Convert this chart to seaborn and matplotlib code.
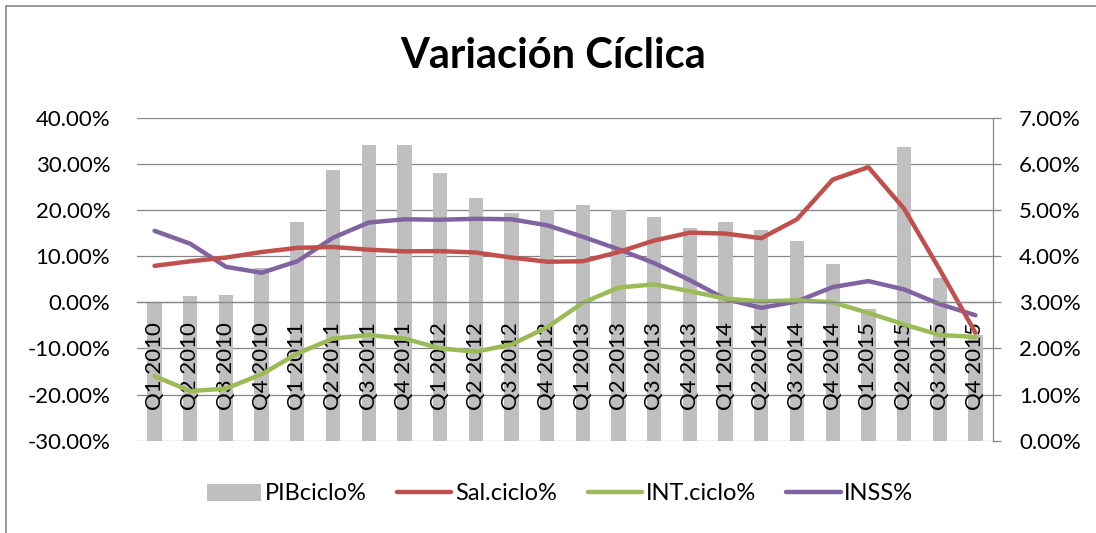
import matplotlib
matplotlib.use('Agg')
import matplotlib.pyplot as plt
from matplotlib.patches import Patch, Rectangle
from matplotlib.lines import Line2D
from matplotlib.ticker import FuncFormatter, MultipleLocator
import numpy as np
import pandas as pd
import seaborn as sns

# data (values in percent)
quarters = ['Q1 2010', 'Q2 2010', 'Q3 2010', 'Q4 2010',
            'Q1 2011', 'Q2 2011', 'Q3 2011', 'Q4 2011',
            'Q1 2012', 'Q2 2012', 'Q3 2012', 'Q4 2012',
            'Q1 2013', 'Q2 2013', 'Q3 2013', 'Q4 2013',
            'Q1 2014', 'Q2 2014', 'Q3 2014', 'Q4 2014',
            'Q1 2015', 'Q2 2015', 'Q3 2015', 'Q4 2015']
pib_ciclo = [3.00, 3.13, 3.15, 3.74, 4.75, 5.87, 6.42, 6.41, 5.81, 5.27, 4.93, 5.01,
             5.10, 5.01, 4.84, 4.61, 4.74, 4.56, 4.32, 3.84, 2.86, 6.36, 3.52, 2.30]
sal_ciclo = [7.9, 8.9, 9.7, 10.9, 11.8, 12.0, 11.4, 11.05, 11.1, 10.8, 9.7, 8.8,
             8.9, 10.9, 13.4, 15.1, 14.9, 13.9, 18.0, 26.6, 29.3, 20.3, 7.1, -6.6]
int_ciclo = [-16.0, -19.25, -18.7, -15.6, -11.1, -7.85, -7.1, -7.85, -10.0, -10.7, -9.15, -5.4,
             -0.1, 3.2, 3.9, 2.4, 0.8, 0.2, 0.45, 0.0, -2.3, -4.8, -7.1, -7.5]
inss = [4.55, 4.27, 3.77, 3.64, 3.89, 4.40, 4.73, 4.80, 4.79, 4.81, 4.80, 4.67,
        4.42, 4.15, 3.85, 3.48, 3.07, 2.88, 3.02, 3.33, 3.46, 3.28, 2.96, 2.72]

df = pd.DataFrame({'pos': np.arange(len(quarters)), 'quarter': quarters,
                   'pib': pib_ciclo, 'sal': sal_ciclo, 'int': int_ciclo, 'inss': inss})

sns.set_style('white')
plt.rcParams['font.family'] = ['Lato', 'DejaVu Sans']
plt.rcParams['text.color'] = 'black'
plt.rcParams['xtick.color'] = 'black'
plt.rcParams['ytick.color'] = 'black'

GRID = '#868686'
FS = 16
W, H = 1096, 533
fig = plt.figure(figsize=(W / 100, H / 100), dpi=100)
ax = fig.add_axes([136.7 / W, (H - 440.7) / H, 856.6 / W, 322.9 / H])

# right axis: bars + INSS
sns.barplot(data=df, x='pos', y='pib', native_scale=True, width=0.4, color='#BFBFBF',
            saturation=1, errorbar=None, linewidth=0, ax=ax)
sns.lineplot(data=df, x='pos', y='inss', color='#8064A2', lw=3.2, ax=ax,
             solid_capstyle='round', solid_joinstyle='round')
ax.set_ylim(0, 7)
ax.set_xlim(-0.5, len(quarters) - 0.5)
ax.yaxis.set_major_locator(MultipleLocator(1))
ax.yaxis.set_major_formatter(FuncFormatter(lambda v, p: f'{v:.2f}%'))
ax.grid(axis='y', color=GRID, lw=0.9)
ax.grid(axis='x', visible=False)
ax.set_axisbelow(True)

# left axis: Sal + INT
ax2 = ax.twinx()
sns.lineplot(data=df, x='pos', y='sal', color='#C0504D', lw=3.2, ax=ax2,
             solid_capstyle='round', solid_joinstyle='round')
sns.lineplot(data=df, x='pos', y='int', color='#9BBB59', lw=3.2, ax=ax2,
             solid_capstyle='round', solid_joinstyle='round')
ax2.set_ylim(-30, 40)
ax2.yaxis.set_major_locator(MultipleLocator(10))
ax2.yaxis.set_major_formatter(FuncFormatter(lambda v, p: f'{v:.2f}%'))
ax2.grid(False)

ax.yaxis.tick_right()
ax2.yaxis.tick_left()
for a in (ax, ax2):
    a.set_xlabel('')
    a.set_ylabel('')
    if a.get_legend():
        a.get_legend().remove()

# category labels hang below the 0% line of the left axis
ax2.xaxis.set_visible(True)
ax2.set_xticks(df['pos'])
ax2.set_xticklabels(quarters)
ax2.tick_params(axis='x', bottom=True, length=0, pad=14, labelsize=FS, labelrotation=90)
ax.tick_params(axis='x', bottom=False, labelbottom=False)
for lbl in ax2.get_xticklabels():
    lbl.set_rotation(90)
    lbl.set_verticalalignment('top')
    lbl.set_horizontalalignment('center')

for s in ['top', 'left', 'bottom']:
    ax.spines[s].set_visible(False)
ax.spines['right'].set_color(GRID)
ax.spines['right'].set_linewidth(0.9)
for s in ['top', 'left', 'right']:
    ax2.spines[s].set_visible(False)
ax2.spines['bottom'].set_position(('data', 0))
ax2.spines['bottom'].set_color(GRID)
ax2.spines['bottom'].set_linewidth(0.9)

ax.tick_params(axis='y', right=True, left=False, length=6, width=0.9, color=GRID,
               direction='out', pad=12.5, labelsize=FS, labelright=True, labelleft=False,
               labelcolor='black')
ax2.tick_params(axis='y', left=True, right=False, length=0, pad=19, labelsize=FS,
                labelleft=True, labelright=False, labelcolor='black')

fig.text(553 / W, (H - 56) / H, 'Variación Cíclica', ha='center', va='center',
         fontsize=30, fontweight='bold', color='black')

handles = [Patch(facecolor='#BFBFBF', edgecolor='none'),
           Line2D([], [], color='#C0504D', lw=3.2),
           Line2D([], [], color='#9BBB59', lw=3.2),
           Line2D([], [], color='#8064A2', lw=3.2)]
fig.legend(handles, ['PIBciclo%', 'Sal.ciclo%', 'INT.ciclo%', 'INSS%'],
           loc='center', bbox_to_anchor=(560 / W, (H - 494) / H), ncol=4, frameon=False,
           fontsize=17, handlelength=2.3, handletextpad=0.15, columnspacing=1.3)

fig.patches.append(Rectangle((6 / W, -0.1), 1.2, (H - 6) / H + 0.1, transform=fig.transFigure,
                             fill=False, edgecolor=GRID, lw=1.2))

fig.savefig('out.png', dpi=100)
